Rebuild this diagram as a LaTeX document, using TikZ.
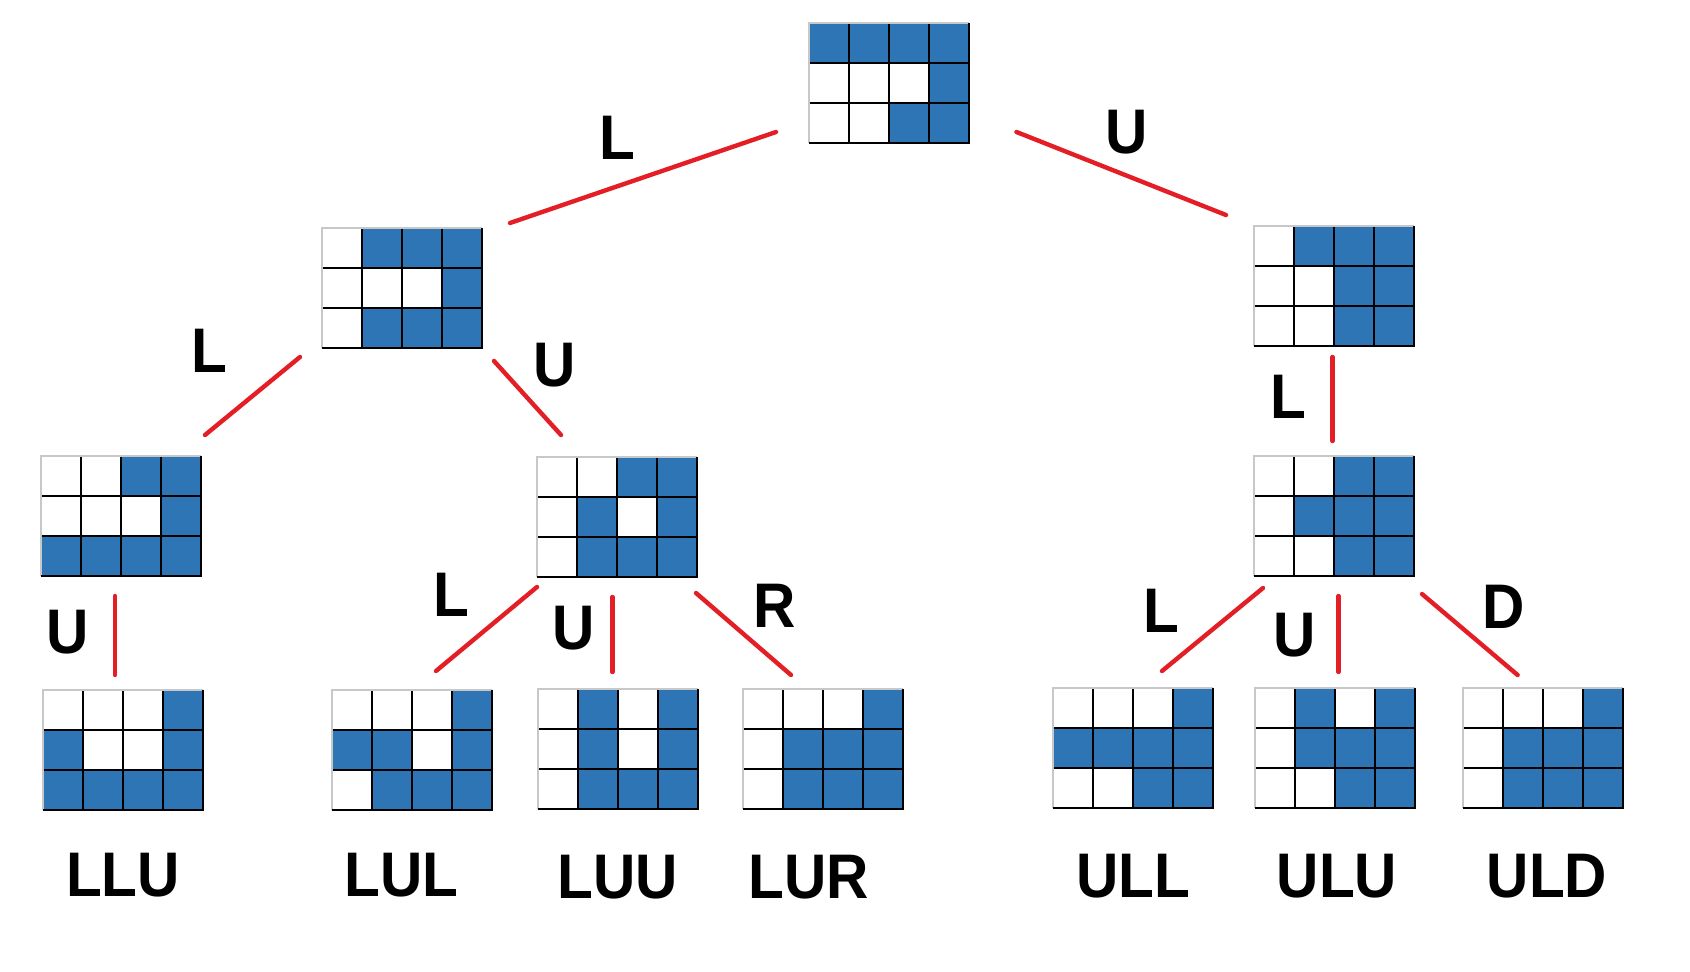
\documentclass[tikz,border=0pt]{standalone}
\usepackage{fontspec}
\setmainfont{Liberation Sans}[FakeStretch=0.93]
\usetikzlibrary{calc}
\definecolor{cellblue}{RGB}{46,117,182}
\definecolor{edgered}{RGB}{228,30,37}
\definecolor{rimgray}{RGB}{200,200,200}
\tikzset{
  gridbox/.style={rectangle,inner sep=0pt,outer sep=0pt,minimum width=160pt,minimum height=120pt,anchor=north west},
  edge/.style={draw=edgered,line width=4.4pt,line cap=round},
  lbl/.style={font=\fontsize{63}{70}\selectfont\bfseries,inner sep=0pt,anchor=base},
  gline/.style={draw=black,line width=1.4pt},
  rim/.style={draw=rimgray,line width=1.4pt}
}
\newcommand\puzzle[4]{%
  \node[gridbox] (#1) at (#2,#3) {};
  \foreach \c/\r in {#4}{\fill[cellblue] ($(#1.north west)+(\c*40-40,\r*40-40)$) rectangle ++(40,40);}
  \foreach \i in {1,2,3}{\draw[gline] ($(#1.north west)+(40*\i,0)$) -- ++(0,120);}
  \foreach \j in {1,2}{\draw[gline] ($(#1.north west)+(0,40*\j)$) -- ++(160,0);}
  \draw[rim] (#1.south west) -- (#1.north west) -- (#1.north east);
  \draw[gline] (#1.north east) -- (#1.south east) -- (#1.south west);
}
\begin{document}
\begin{tikzpicture}[x=1pt,y=-1pt]
\useasboundingbox[fill=white] (0,0) rectangle (1690,972);
% grids
\puzzle{root}{809}{23}{1/1,2/1,3/1,4/1,4/2,3/3,4/3}
\puzzle{nL}{322}{228}{2/1,3/1,4/1,4/2,2/3,3/3,4/3}
\puzzle{nU}{1254}{226}{2/1,3/1,4/1,3/2,4/2,3/3,4/3}
\puzzle{nLL}{41}{456}{3/1,4/1,4/2,1/3,2/3,3/3,4/3}
\puzzle{nLU}{537}{457}{3/1,4/1,2/2,4/2,2/3,3/3,4/3}
\puzzle{nUL}{1254}{456}{3/1,4/1,2/2,3/2,4/2,3/3,4/3}
\puzzle{nLLU}{43}{690}{4/1,1/2,4/2,1/3,2/3,3/3,4/3}
\puzzle{nLUL}{332}{690}{4/1,1/2,2/2,4/2,2/3,3/3,4/3}
\puzzle{nLUU}{538}{689}{2/1,4/1,2/2,4/2,2/3,3/3,4/3}
\puzzle{nLUR}{743}{689}{4/1,2/2,3/2,4/2,2/3,3/3,4/3}
\puzzle{nULL}{1053}{688}{4/1,1/2,2/2,3/2,4/2,3/3,4/3}
\puzzle{nULU}{1255}{688}{2/1,4/1,2/2,3/2,4/2,3/3,4/3}
\puzzle{nULD}{1463}{688}{4/1,2/2,3/2,4/2,2/3,3/3,4/3}
% connectors
\draw[edge] ($(root.south west)+(-33,-11)$) -- ($(nL.north west)+(188,-5)$);
\draw[edge] ($(root.south east)+(47.5,-11)$) -- ($(nU.north west)+(-28,-11)$);
\draw[edge] ($(nL.south west)+(-22,9)$) -- ($(nLL.north west)+(164,-21)$);
\draw[edge] ($(nL.south east)+(12,13)$) -- ($(nLU.north west)+(24,-22)$);
\draw[edge] ($(nU.south)+(-1.5,11)$) -- ($(nUL.north)+(-1.5,-15)$);
\draw[edge] ($(nLL.south)+(-6,20)$) -- ($(nLLU.north)+(-8,-15)$);
\draw[edge] ($(nLU.south west)+(0,10)$) -- ($(nLUL.north west)+(104,-19)$);
\draw[edge] ($(nLU.south)+(-4.6,20)$) -- ($(nLUU.north)+(-5.6,-17)$);
\draw[edge] ($(nLU.south east)+(-1,16)$) -- ($(nLUR.north west)+(48,-14)$);
\draw[edge] ($(nUL.south west)+(9,12)$) -- ($(nULL.north west)+(109,-17)$);
\draw[edge] ($(nUL.south)+(4.5,20)$) -- ($(nULU.north)+(3.5,-16)$);
\draw[edge] ($(nUL.south east)+(8,18)$) -- ($(nULD.north west)+(54.6,-13)$);
% edge labels
\node[lbl] (tL) at (617,159) {L};
\node[lbl] (tU) at (1126.5,153) {U};
\node[lbl] (tLL) at (209,372) {L};
\node[lbl] (tLU) at (555,386) {U};
\node[lbl] (tUL) at (1288,418) {L};
\node[lbl] (tLLU) at (68,653) {U};
\node[lbl] (tLUL) at (451,616) {L};
\node[lbl] (tLUU) at (574,649) {U};
\node[lbl] (tLUR) at (775,627) {R};
\node[lbl] (tULL) at (1161,632) {L};
\node[lbl] (tULU) at (1295,656) {U};
\node[lbl] (tULD) at (1504,628) {D};
% leaf names
\node[lbl] (bLLU) at (123,896) {LLU};
\node[lbl] (bLUL) at (401.5,896) {LUL};
\node[lbl] (bLUU) at (617.5,898) {LUU};
\node[lbl] (bLUR) at (809,898) {LUR};
\node[lbl] (bULL) at (1133,897) {ULL};
\node[lbl] (bULU) at (1337,897) {ULU};
\node[lbl] (bULD) at (1547,897) {ULD};
\end{tikzpicture}
\end{document}
